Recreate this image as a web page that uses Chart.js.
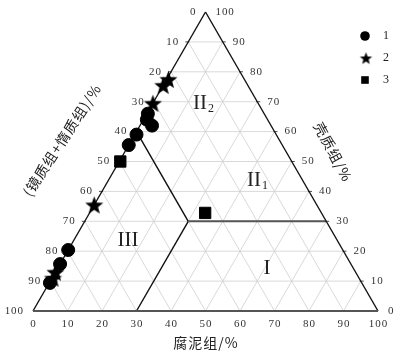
<!DOCTYPE html>
<html>
<head>
<meta charset="utf-8">
<script src="https://cdn.jsdelivr.net/npm/chart.js@4.4.1/dist/chart.umd.min.js"></script>
<style>
  body { margin: 0; background: #fff; }
  canvas { display: block; }
</style>
</head>
<body>
<canvas id="ternary" width="405" height="355"></canvas>
<script>
// components in %: sapropelinite (腐泥组) and exinite (壳质组); vitrinite+inertinite is the rest
const seriesNames = ['1', '2', '3'];
const circleSapro = [0.3, 1, 3.5, 0.5, 0, 0, 0, 0.2];
const circleExin = [66, 64, 62, 59, 55.5, 20.4, 15.7, 9.4];
const starSapro = [0, 0.5, 0, 0, 0, 0.3];
const starExin = [75.5, 77.5, 69.5, 35.5, 13, 11];
const squareSapro = [0.3, 33.5];
const squareExin = [50, 32.8];
const tickValues = [0, 10, 20, 30, 40, 50, 60, 70, 80, 90, 100];

// region boundaries (iso-lines)
const boundExin = 30;   // 壳质组 = 30
const boundSapro = 30;  // 腐泥组 = 30
const boundVit = 40;    // 镜质组+惰质组 = 40

// ternary -> cartesian (x along bottom, y = height)
function toXY(s, e) {
    return { x: s + e / 2, y: e };
}
function makePoints(sArr, eArr) {
    return sArr.map((s, i) => toXY(s, eArr[i]));
}

function starCanvas(r) {
    const c = document.createElement('canvas');
    c.width = c.height = Math.ceil(r * 2 + 2);
    const g = c.getContext('2d');
    const cx = c.width / 2, cy = c.height / 2 + r * 0.1;
    g.beginPath();
    for (let i = 0; i < 10; i++) {
        const rad = i % 2 === 0 ? r : r * 0.42;
        const a = -Math.PI / 2 + i * Math.PI / 5;
        g.lineTo(cx + rad * Math.cos(a), cy + rad * Math.sin(a));
    }
    g.closePath();
    g.fillStyle = '#000';
    g.fill();
    return c;
}
const bigStar = starCanvas(9.5);
const smallStar = starCanvas(6.5);

const serif = '"Liberation Serif", "DejaVu Serif", serif';
const cjk = '"Noto Sans CJK SC", sans-serif';
const hair = String.fromCharCode(8202);

const ternaryPlugin = {
    id: 'ternary',
    beforeDatasetsDraw(chart) {
        const ctx = chart.ctx;
        const xs = chart.scales.x, ys = chart.scales.y;
        const P = (s, e) => {
            const p = toXY(s, e);
            return [xs.getPixelForValue(p.x), ys.getPixelForValue(p.y)];
        };
        const line = (a, b, color, w) => {
            ctx.beginPath();
            ctx.moveTo(a[0], a[1]);
            ctx.lineTo(b[0], b[1]);
            ctx.strokeStyle = color;
            ctx.lineWidth = w;
            ctx.stroke();
        };
        ctx.save();
        // grid
        for (let k = 10; k < 100; k += 10) {
            line(P(0, k), P(100 - k, k), '#cfcfcf', 0.8);        // exinite const
            line(P(k, 0), P(k, 100 - k), '#cfcfcf', 0.8);        // sapropel const
            line(P(100 - k, 0), P(0, 100 - k), '#cfcfcf', 0.8);  // vit const
        }
        // small ticks
        for (let k = 10; k < 100; k += 10) {
            const l = P(0, k), r = P(100 - k, k);
            line([l[0] - 3, l[1]], [l[0] + 1, l[1]], '#222', 0.8);
            line([r[0] - 1, r[1]], [r[0] + 3, r[1]], '#222', 0.8);
        }
        // region boundaries
        const junc = P(boundSapro, boundExin);
        line(P(boundSapro, 0), junc, '#111', 1.4);
        line(junc, P(0, 100 - boundVit), '#111', 1.4);
        line(junc, P(100 - boundExin, boundExin), '#555', 2);
        // triangle
        line(P(0, 0), P(0, 100), '#111', 1.4);
        line(P(0, 100), P(100, 0), '#111', 1.4);
        line(P(0, 0), P(100, 0), '#555', 2);

        // tick labels
        ctx.fillStyle = '#333';
        ctx.font = '11px ' + serif;
        ctx.textBaseline = 'middle';
        tickValues.forEach(v => {
            const txt = String(v).split('').join(hair);
            let p = P(v, 0);
            ctx.textAlign = 'center';
            ctx.fillText(txt, p[0], p[1] + 13);
            p = P(0, 100 - v);
            ctx.textAlign = 'right';
            ctx.fillText(txt, p[0] - 10, p[1]);
            p = P(100 - v, v);
            ctx.textAlign = 'left';
            ctx.fillText(txt, p[0] + 10, p[1]);
        });

        // region labels
        ctx.fillStyle = '#222';
        ctx.font = '21px ' + serif;
        ctx.textAlign = 'center';
        ctx.fillText('II', 200, 103);
        ctx.fillText('II', 254, 180);
        ctx.fillText('III', 128, 240);
        ctx.fillText('I', 267, 268);
        ctx.font = '12px ' + serif;
        ctx.fillText('2', 211, 109);
        ctx.fillText('1', 265, 186);

        // axis titles
        ctx.fillStyle = '#222';
        ctx.font = '14px ' + cjk;
        ctx.letterSpacing = '1px';
        ctx.textAlign = 'center';
        ctx.fillText('腐泥组/%', 206, 343);
        ctx.save();
        ctx.translate(333, 152);
        ctx.rotate(62 * Math.PI / 180);
        ctx.fillText('壳质组/%', 0, 0);
        ctx.restore();
        ctx.save();
        ctx.translate(62, 140);
        ctx.rotate(-57 * Math.PI / 180);
        ctx.fillText('(镜质组+惰质组)/%', 0, 0);
        ctx.restore();
        ctx.letterSpacing = '0px';
        ctx.restore();
    },
    afterDraw(chart) {
        // legend
        const ctx = chart.ctx;
        ctx.save();
        const ys = [36, 58, 80];
        seriesNames.forEach((name, i) => {
            ctx.fillStyle = '#000';
            if (i === 0) {
                ctx.beginPath();
                ctx.arc(365, ys[i], 4.8, 0, Math.PI * 2);
                ctx.fill();
            } else if (i === 1) {
                Chart.helpers.drawPoint(ctx, { pointStyle: smallStar, radius: 6 }, 366, ys[i]);
            } else {
                ctx.fillRect(365 - 3.8, ys[i] - 3.8, 7.6, 7.6);
            }
            ctx.fillStyle = '#222';
            ctx.font = '12px ' + serif;
            ctx.textAlign = 'left';
            ctx.textBaseline = 'middle';
            ctx.fillText(name, 383, ys[i]);
        });
        ctx.restore();
    }
};

new Chart(document.getElementById('ternary'), {
    type: 'scatter',
    data: {
        datasets: [
            {
                label: seriesNames[0],
                data: makePoints(circleSapro, circleExin),
                pointStyle: 'circle',
                pointRadius: 6.5,
                backgroundColor: '#000',
                borderColor: '#000',
                clip: false,
            },
            {
                label: seriesNames[1],
                data: makePoints(starSapro, starExin),
                pointStyle: bigStar,
                pointRadius: 9,
                backgroundColor: '#000',
                borderColor: '#000',
                clip: false,
            },
            {
                label: seriesNames[2],
                data: makePoints(squareSapro, squareExin),
                pointStyle: 'rect',
                pointRadius: 8,
                backgroundColor: '#000',
                borderColor: '#000',
                clip: false,
            },
        ],
    },
    options: {
        responsive: false,
        animation: false,
        layout: { padding: { left: 33, right: 27, top: 12, bottom: 44 } },
        scales: {
            x: { min: 0, max: 100, display: false },
            y: { min: 0, max: 100, display: false },
        },
        plugins: {
            legend: { display: false },
            tooltip: { enabled: false },
        },
    },
    plugins: [ternaryPlugin],
});
</script>
</body>
</html>
